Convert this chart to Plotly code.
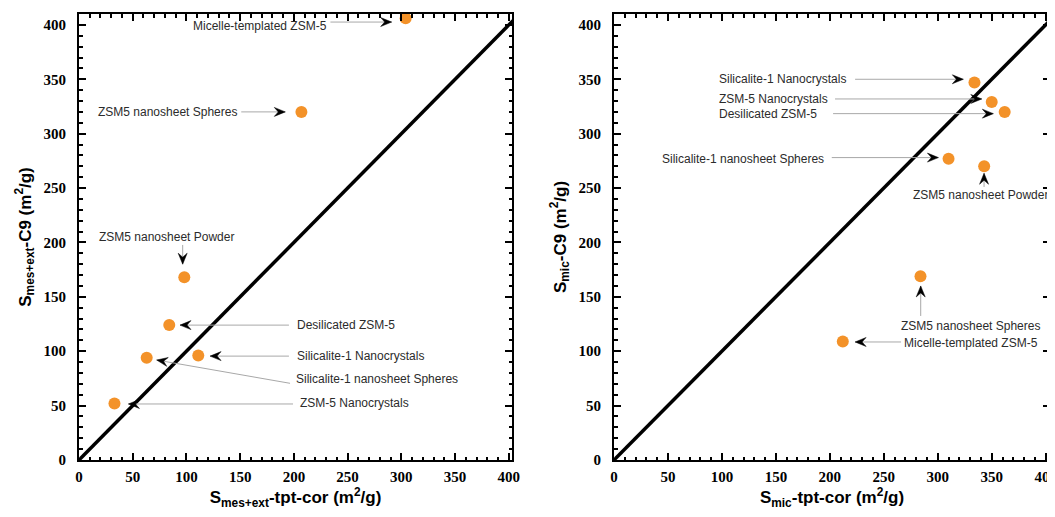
import math
import plotly.graph_objects as go

# ---------------- data ----------------
samples_left = ["Micelle-templated ZSM-5", "ZSM5 nanosheet Spheres", "ZSM5 nanosheet Powder",
                "Desilicated ZSM-5", "Silicalite-1 Nanocrystals", "Silicalite-1 nanosheet Spheres",
                "ZSM-5 Nanocrystals"]
x_left = [304, 207, 98, 84, 111, 63, 33]
y_left = [406, 320, 168, 124, 96, 94, 52]

samples_right = ["Silicalite-1 Nanocrystals", "ZSM-5 Nanocrystals", "Desilicated ZSM-5",
                 "Silicalite-1 nanosheet Spheres", "ZSM5 nanosheet Powder", "ZSM5 nanosheet Spheres",
                 "Micelle-templated ZSM-5"]
x_right = [334, 350, 362, 310, 343, 284, 212]
y_right = [347, 329, 320, 277, 270, 169, 109]

parity = [0, 420]
tick_vals = [0, 50, 100, 150, 200, 250, 300, 350, 400]

# label placement: (text_x, text_y, xanchor, line_x0, line_y0, tip_x, tip_y)
labels_left = [
    (168, 399, "center", 234, 402.6, 291, 402.6),
    (82, 320, "center", 151, 320, 192, 320),
    (81.4, 205, "center", 96.5, 197.7, 96.5, 180),
    (201, 124, "left", 195.4, 124, 94, 124),
    (201, 95.5, "left", 195.4, 95.5, 122, 95.5),
    (200, 74.5, "left", 196.4, 70.5, 72.3, 91.9),
    (203.5, 52, "left", 199.2, 51.5, 46, 51.5),
]
labels_right = [
    (95.2, 350.3, "left", 223.4, 350, 323.7, 350),
    (95.2, 331.9, "left", 204.8, 331.9, 340.8, 331.9),
    (95.2, 318.4, "left", 203, 318.4, 351.5, 318.4),
    (42.6, 276.8, "left", 201.8, 278, 300.6, 278),
    (339.2, 243.6, "center", 342.9, 251, 342.9, 263.6),
    (329.9, 123.5, "center", 284.2, 132.4, 284.2, 160),
    (266.6, 107.3, "left", 266, 108.5, 223.4, 108.5),
]

ORANGE = "#F39229"
OFF = 8  # page body margin
W, H = 1055 - OFF, 517 - OFF
MT, MB = 14 - OFF, 57
dom_left = [(79 - OFF) / W, (512 - OFF) / W]
dom_right = [(614 - OFF) / W, (1050 - OFF) / W]
xr_left = [0, 403]
xr_right = [0, 404]
yr = [0, 410]

fig = go.Figure()

for xa, ya in (("x", "y"), ("x2", "y2")):
    fig.add_trace(go.Scatter(x=parity, y=parity, mode="lines", xaxis=xa, yaxis=ya,
                             line=dict(color="black", width=3.5), showlegend=False,
                             hoverinfo="skip"))

fig.add_trace(go.Scatter(x=x_left, y=y_left, mode="markers", xaxis="x", yaxis="y",
                         text=samples_left, marker=dict(color=ORANGE, size=12),
                         showlegend=False, cliponaxis=False))
fig.add_trace(go.Scatter(x=x_right, y=y_right, mode="markers", xaxis="x2", yaxis="y2",
                         text=samples_right, marker=dict(color=ORANGE, size=12),
                         showlegend=False, cliponaxis=False))

shapes = []
annotations = []

HEAD_L, HEAD_W, HEAD_N = 11.0, 4.5, 7.0


def add_labels(names, placements, xref, yref, xrange, dom):
    sx = (dom[1] - dom[0]) * W / (xrange[1] - xrange[0])
    sy = (H - MT - MB) / (yr[1] - yr[0])
    for name, (tx, ty, anc, lx, ly, px, py) in zip(names, placements):
        annotations.append(dict(x=tx, y=ty, xref=xref, yref=yref, text=name, showarrow=False,
                                xanchor=anc, yanchor="middle",
                                font=dict(family="Liberation Sans", size=12, color="#2b2b2b")))
        shapes.append(dict(type="line", xref=xref, yref=yref, x0=lx, y0=ly, x1=px, y1=py,
                           line=dict(color="#a8a8a8", width=1)))
        dx = (px - lx) * sx
        dy = (py - ly) * sy
        n = math.hypot(dx, dy)
        ux, uy = dx / n, dy / n
        qx, qy = -uy, ux
        pts = [(0, 0),
               (-HEAD_L * ux + HEAD_W * qx, -HEAD_L * uy + HEAD_W * qy),
               (-HEAD_N * ux, -HEAD_N * uy),
               (-HEAD_L * ux - HEAD_W * qx, -HEAD_L * uy - HEAD_W * qy)]
        path = "M" + " L".join(f"{a:.2f},{b:.2f}" for a, b in pts) + " Z"
        shapes.append(dict(type="path", xref=xref, yref=yref, xsizemode="pixel",
                           ysizemode="pixel", xanchor=px, yanchor=py, path=path,
                           fillcolor="black", line=dict(color="black", width=0.5)))


add_labels(samples_left, labels_left, "x", "y", xr_left, dom_left)
add_labels(samples_right, labels_right, "x2", "y2", xr_right, dom_right)

tick_font = dict(family="Liberation Serif", size=15, color="black", weight="bold")
axis_common = dict(
    showline=True, linewidth=2, linecolor="black", mirror="ticks",
    ticks="inside", ticklen=7, tickwidth=2, tickcolor="black",
    tickvals=tick_vals, ticktext=[f"<b>{v}</b>" for v in tick_vals],
    showgrid=False, zeroline=False,
    minor=dict(dtick=10, ticks="inside", ticklen=3.5, tickwidth=1.5, tickcolor="black"),
    tickfont=tick_font,
    ticklabeloverflow="allow",
    automargin=False,
)
title_font = dict(family="Liberation Sans", size=17, color="black")

fig.update_layout(
    width=W, height=H,
    margin=dict(l=0, r=0, t=MT, b=MB),
    font=dict(family="Liberation Serif", color="black"),
    paper_bgcolor="white", plot_bgcolor="white",
    xaxis=dict(axis_common, domain=dom_left, range=xr_left, anchor="y",
               ticklabelstandoff=2,
               title=dict(text="<b>S<sub>mes+ext</sub>-tpt-cor (m<sup>2</sup>/g)</b>",
                          font=title_font, standoff=6)),
    yaxis=dict(axis_common, domain=[0, 1], range=yr, anchor="x",
               ticklabelstandoff=8,
               title=dict(text="<b>S<sub>mes+ext</sub>-C9 (m<sup>2</sup>/g)</b>",
                          font=title_font, standoff=8)),
    xaxis2=dict(axis_common, domain=dom_right, range=xr_right, anchor="y2",
                ticklabelstandoff=2,
                title=dict(text="<b>S<sub>mic</sub>-tpt-cor (m<sup>2</sup>/g)</b>",
                           font=title_font, standoff=6)),
    yaxis2=dict(axis_common, domain=[0, 1], range=yr, anchor="x2",
                ticklabelstandoff=8,
                title=dict(text="<b>S<sub>mic</sub>-C9 (m<sup>2</sup>/g)</b>",
                           font=title_font, standoff=8)),
    shapes=shapes,
    annotations=annotations,
)

fig.write_html("out.html")
